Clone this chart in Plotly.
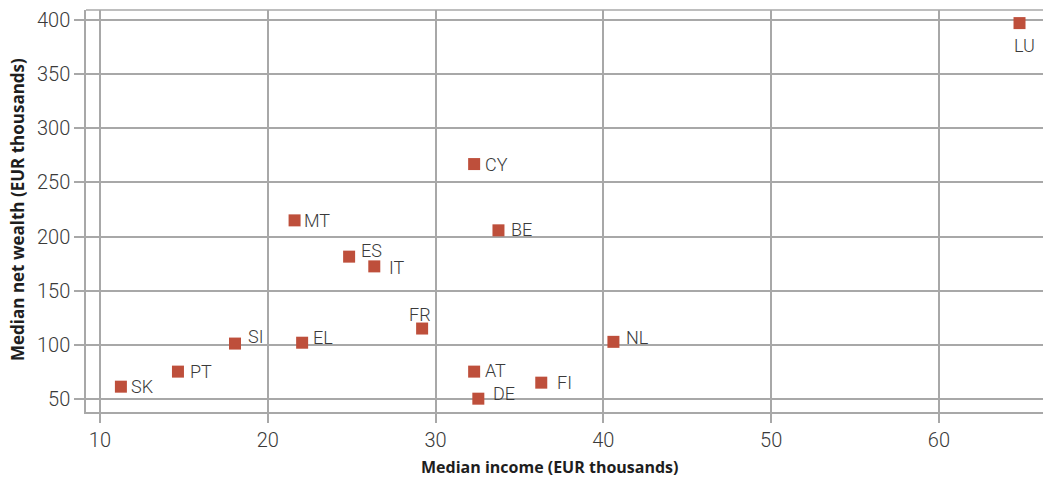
import plotly.graph_objects as go

# Median household income vs median net wealth, by country (EUR thousands)
countries = ["SK", "PT", "SI", "EL", "MT", "ES", "IT", "FR", "CY", "BE", "NL", "AT", "FI", "DE", "LU"]
median_income = [11.25, 14.65, 18.05, 22.05, 21.6, 24.85, 26.35, 29.2, 32.3, 33.75, 40.6, 32.3, 36.3, 32.55, 64.8]
median_wealth = [61.4, 75.3, 101.2, 102.0, 215.0, 181.5, 172.5, 115.1, 267.0, 205.8, 102.8, 75.3, 65.1, 50.3, 397.2]

x_ticks = [10, 20, 30, 40, 50, 60]
y_ticks = [50, 100, 150, 200, 250, 300, 350, 400]

# label placement relative to each marker: (xanchor, dx, dy) in pixels
label_offsets = {
    "SK": ("left", 8, 0), "PT": ("left", 10, 0), "SI": ("left", 11, -7),
    "EL": ("left", 9, -5), "MT": ("left", 7, 0), "ES": ("left", 10, -6),
    "IT": ("left", 13, 1), "FR": ("center", -2, -14), "CY": ("left", 9, 0),
    "BE": ("left", 11, -1), "NL": ("left", 11, -4), "AT": ("left", 9, -1),
    "FI": ("left", 14, 0), "DE": ("left", 13, -5), "LU": ("center", 5, 22),
}

MARKER = "#BE4F3B"
GRID = "#A8A8A8"
TEXT = "#3A3A3A"
TITLE = "#1E1E1E"
FONT = "Roboto"
TITLE_FONT = "Open Sans"

W, H = 1043, 477
L, R, T, B = 86, 0, 10, 65
pw, ph = W - L - R, H - T - B


def to_paper(px, py):
    """Pixel position on the page -> paper coordinates."""
    return (px - L) / pw, (H - py - B) / ph


fig = go.Figure(
    go.Scatter(
        x=median_income,
        y=median_wealth,
        mode="markers",
        marker=dict(symbol="square", size=12, color=MARKER, line=dict(width=0)),
        hoverinfo="skip",
        showlegend=False,
    )
)

annotations = []
for c, xv, yv in zip(countries, median_income, median_wealth):
    anchor, dx, dy = label_offsets[c]
    annotations.append(dict(
        x=xv, y=yv, xref="x", yref="y", text=c, showarrow=False,
        xanchor=anchor, yanchor="middle", xshift=dx, yshift=-dy,
        font=dict(family=FONT, size=18, color=TEXT, weight=300),
    ))

# axis titles
xt_x, xt_y = to_paper(549, 467)
annotations.append(dict(
    x=xt_x, y=xt_y, xref="paper", yref="paper", text="<b>Median income (EUR thousands)</b>",
    showarrow=False, xanchor="center", yanchor="middle",
    font=dict(family=TITLE_FONT, size=16, color=TITLE),
))
yt_x, yt_y = to_paper(18, 210)
annotations.append(dict(
    x=yt_x, y=yt_y, xref="paper", yref="paper", text="<b>Median net wealth (EUR thousands)</b>",
    showarrow=False, xanchor="center", yanchor="middle", textangle=-90,
    font=dict(family=TITLE_FONT, size=17, color=TITLE),
))

axis_common = dict(
    showgrid=True, gridcolor=GRID, gridwidth=1.5,
    showline=True, linecolor=GRID, linewidth=1.5,
    ticks="outside", tickcolor=GRID, tickwidth=1.5,
    zeroline=False,
    tickfont=dict(family=FONT, size=20, color=TEXT, weight=300),
)

fig.update_layout(
    width=W, height=H,
    margin=dict(l=L, r=R, t=T, b=B),
    paper_bgcolor="white", plot_bgcolor="white",
    xaxis=dict(range=[9.17, 66.2], tickvals=x_ticks, ticklen=9, **axis_common),
    yaxis=dict(range=[38, 409.3], tickvals=y_ticks, ticklen=10, **axis_common),
    annotations=annotations,
    shapes=[dict(type="line", xref="paper", yref="paper", x0=0, x1=1, y0=1, y1=1,
                 line=dict(color=GRID, width=1.5))],
)

fig.write_html("out.html")
